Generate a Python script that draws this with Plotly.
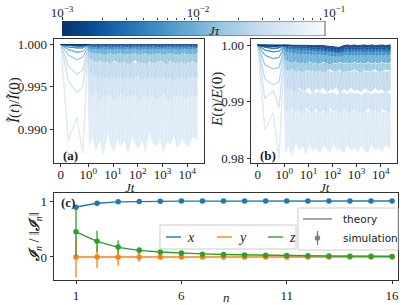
import math
import numpy as np
import plotly.graph_objects as go
from plotly.colors import sample_colorscale, make_colorscale, sequential

W, H = 407, 305


def px_x(p):
    return p / W


def px_y(p):
    return 1 - p / H


SERIF = "Liberation Serif"
SANS = "DejaVu Sans"
INK = "#222222"
FRAME = "#333333"

# ---------------- data ----------------
# colour bar range, log10(J tau)
JT_LOG_MIN = -3.0
JT_LOG_MAX = -1.066
CB_TICK_TEXT = ["10<sup>\u22123</sup>", "10<sup>\u22122</sup>", "10<sup>\u22121</sup>"]

# J tau of each drawn curve (darkest -> lightest)
JT = [0.001, 0.0017, 0.003, 0.0052, 0.009, 0.016, 0.027, 0.036, 0.048]

# time samples (J t)
EARLY_T = [0, 0.27, 0.58, 0.8, 0.98]
T_LOG = [1.1, 1.5, 2, 3, 4, 6, 8, 11, 15, 20, 30, 40, 60, 80, 110, 150, 200, 300,
         400, 600, 800, 1100, 1500, 2000, 3000, 4000, 6000, 8000, 11000, 16000, 25000]
X_TICK_T = [0, 1, 10, 100, 1000, 10000]
X_TICK_TEXT = ["0", "10<sup>0</sup>", "10<sup>1</sup>", "10<sup>2</sup>", "10<sup>3</sup>", "10<sup>4</sup>"]

# panel (a): deviation 1 - I(t)/I(0), in units of 1e-4
A_EARLY = [
    [0, 0, 0, 0, 0],
    [0, 0, 1, 1, 0],
    [0, 1, 2, 2, 0],
    [0, 3, 4, 4, 1],
    [0, 6, 9, 8, 2],
    [0, 12, 18, 15, 3],
    [0, 25, 35, 30, 5],
    [0, 42, 57, 50, 8],
    [0, 113, 86, 128, 12],
]
A_UP = [
    [0, 0, 0, 0, 0, 0, 0, 0, 0, 0, 0, 0, 0, 0, 0, 0, 0, 0, 0, 0, 0, 0, 0, 0, 0, 0, 0, 0, 0, 0, 0],
    [0, 0, 0, 0, 0, 0, 0, 0, 0, 0, 0, 0, 0, 0, 0, 0, 0, 0, 0, 0, 0, 0, 0, 0, 0, 0, 0, 0, 0, 0, 0],
    [0, 0, 0, 0, 0, 0, 0, 0, 0, 0, 0, 0, 0, 0, 0, 0, 0, 0, 0, 0, 0, 0, 0, 0, 0, 0, 0, 0, 0, 0, 0],
    [1, 1, 1, 1, 1, 1, 1, 1, 1, 1, 1, 1, 1, 1, 1, 1, 1, 1, 1, 1, 1, 1, 1, 1, 1, 1, 1, 1, 1, 1, 1],
    [2, 2, 3, 3, 4, 3, 4, 3, 4, 4, 3, 4, 4, 3, 4, 4, 3, 4, 4, 3, 4, 4, 3, 4, 4, 3, 4, 4, 3, 4, 4],
    [4, 6, 7, 8, 9, 8, 10, 9, 10, 9, 11, 10, 9, 10, 11, 9, 10, 11, 10, 9, 10, 11, 10, 9, 11, 10, 10, 11, 9, 10, 10],
    [8, 12, 15, 18, 16, 20, 18, 22, 19, 21, 18, 22, 20, 23, 19, 21, 18, 22, 20, 21, 19, 23, 20, 22, 18, 21, 20, 22, 19, 21, 20],
    [15, 20, 25, 28, 30, 32, 28, 35, 30, 33, 36, 30, 34, 38, 32, 35, 30, 36, 33, 38, 35, 32, 37, 34, 36, 33, 38, 35, 32, 36, 34],
    [30, 40, 45, 55, 50, 60, 48, 58, 52, 62, 55, 50, 60, 57, 52, 63, 55, 58, 50, 60, 56, 62, 54, 58, 60, 52, 57, 62, 55, 58, 60],
]
A_LO = [
    [0.6, 0.6, 0.6, 0.6, 0.6, 0.6, 0.6, 0.6, 0.6, 0.6, 0.6, 0.6, 0.6, 0.6, 0.6, 0.6, 0.6, 0.6, 0.6, 0.6, 0.6, 0.6, 0.6, 0.6, 0.6, 0.6, 0.6, 0.6, 0.6, 0.6, 0.6],
    [1, 1, 1, 1, 1, 1, 1, 1, 1, 1, 1, 1, 1, 1, 1, 1, 1, 1, 1, 1, 1, 1, 1, 1, 1, 1, 1, 1, 1, 1, 1],
    [2, 2, 2, 3, 2, 2, 3, 2, 2, 3, 2, 2, 3, 2, 2, 3, 2, 2, 3, 2, 2, 3, 2, 2, 3, 2, 2, 3, 2, 2, 3],
    [4, 5, 4, 5, 5, 4, 5, 5, 4, 5, 5, 4, 5, 4, 5, 5, 4, 5, 5, 4, 5, 4, 5, 5, 4, 5, 5, 4, 5, 5, 4],
    [8, 9, 10, 9, 11, 10, 9, 11, 10, 9, 11, 10, 10, 9, 11, 10, 9, 11, 10, 10, 9, 11, 10, 9, 10, 11, 10, 9, 11, 10, 10],
    [15, 18, 20, 17, 21, 19, 22, 18, 20, 21, 19, 22, 20, 18, 21, 20, 22, 19, 21, 20, 18, 21, 22, 19, 20, 21, 19, 22, 20, 19, 21],
    [30, 35, 38, 34, 40, 36, 42, 35, 39, 37, 41, 36, 40, 38, 35, 42, 37, 39, 36, 41, 38, 36, 40, 37, 42, 38, 36, 40, 39, 37, 38],
    [55, 60, 50, 65, 58, 62, 55, 68, 60, 57, 64, 58, 62, 56, 66, 60, 58, 63, 57, 65, 60, 58, 62, 66, 59, 61, 57, 64, 60, 58, 62],
    [120, 105, 125, 110, 130, 100, 118, 125, 108, 120, 112, 128, 104, 118, 122, 110, 126, 100, 115, 120, 108, 125, 112, 118, 105, 122, 110, 115, 120, 108, 112],
]

# panel (b): deviation 1 - E(t)/E(0), in units of 1e-4
B_EARLY = [
    [0, 0, 1, 1, 0],
    [0, 2, 3, 2, 0],
    [0, 4, 6, 5, 1],
    [0, 9, 12, 11, 3],
    [0, 18, 24, 22, 5],
    [0, 35, 42, 40, 8],
    [0, 60, 70, 65, 12],
    [0, 95, 80, 110, 20],
    [0, 150, 120, 200, 30],
]
B_UP = [
    [0, 0, 0, 0, 0, 0, 0, 0, 0, 1, 1, 1, 2, 2, 3, 4, 4, 1, 0, 1, 0, 1, 0, 0, 1, 0, 1, 0, 0, 1, 0],
    [0, 0, 1, 1, 1, 1, 1, 1, 2, 2, 2, 3, 3, 4, 5, 5, 6, 3, 2, 3, 2, 3, 2, 3, 3, 2, 3, 2, 3, 2, 3],
    [1, 1, 2, 2, 2, 3, 3, 3, 3, 4, 4, 4, 5, 5, 6, 6, 6, 5, 4, 5, 4, 5, 4, 5, 4, 5, 4, 5, 4, 5, 4],
    [3, 4, 5, 5, 6, 6, 7, 7, 8, 8, 8, 9, 9, 10, 10, 11, 11, 10, 9, 10, 9, 10, 9, 10, 9, 10, 9, 10, 9, 10, 9],
    [8, 10, 12, 13, 14, 15, 16, 16, 17, 17, 18, 18, 18, 19, 19, 19, 20, 18, 17, 18, 17, 18, 17, 18, 17, 18, 17, 18, 17, 18, 17],
    [20, 24, 26, 28, 30, 30, 32, 31, 33, 32, 34, 33, 32, 34, 33, 35, 32, 34, 33, 35, 32, 34, 33, 35, 32, 34, 33, 35, 32, 34, 33],
    [35, 40, 42, 45, 44, 46, 45, 48, 46, 47, 45, 48, 46, 47, 49, 46, 48, 45, 47, 49, 46, 48, 45, 47, 49, 46, 48, 47, 45, 48, 46],
    [60, 70, 75, 80, 78, 85, 82, 88, 84, 86, 83, 88, 85, 87, 84, 89, 86, 85, 88, 84, 87, 85, 89, 86, 84, 88, 85, 87, 86, 84, 88],
    [95, 105, 110, 115, 112, 118, 115, 120, 116, 119, 114, 121, 117, 115, 120, 116, 119, 114, 118, 121, 116, 119, 115, 118, 120, 116, 119, 114, 118, 120, 117],
]
B_LO = [
    [0, 0, 0, 1, 1, 1, 1, 1, 2, 2, 3, 3, 4, 5, 6, 6, 7, 3, 2, 3, 2, 3, 2, 3, 3, 2, 3, 2, 3, 3, 2],
    [2, 3, 3, 3, 4, 4, 4, 5, 5, 6, 6, 7, 8, 9, 10, 10, 11, 7, 6, 7, 6, 7, 6, 7, 6, 7, 6, 7, 6, 7, 6],
    [5, 6, 6, 7, 7, 8, 8, 8, 9, 9, 10, 10, 11, 12, 12, 13, 13, 11, 10, 11, 10, 11, 10, 11, 10, 11, 10, 11, 10, 11, 10],
    [10, 12, 12, 13, 14, 14, 15, 15, 15, 16, 16, 17, 17, 18, 18, 19, 19, 17, 16, 17, 16, 17, 16, 17, 16, 17, 16, 17, 16, 17, 16],
    [25, 28, 30, 27, 31, 29, 32, 28, 31, 30, 32, 29, 31, 33, 30, 32, 29, 31, 30, 32, 29, 31, 30, 32, 29, 31, 30, 32, 29, 31, 30],
    [42, 45, 40, 46, 43, 47, 42, 45, 44, 46, 43, 47, 44, 42, 46, 45, 43, 47, 44, 46, 42, 45, 47, 43, 46, 44, 42, 46, 45, 43, 44],
    [70, 80, 75, 85, 72, 82, 78, 74, 84, 76, 80, 73, 83, 77, 79, 72, 85, 76, 81, 74, 80, 78, 83, 75, 79, 82, 74, 80, 77, 83, 78],
    [110, 120, 105, 118, 112, 122, 108, 116, 120, 110, 118, 114, 121, 108, 117, 113, 120, 110, 116, 119, 112, 118, 115, 121, 110, 117, 114, 120, 112, 116, 118],
    [190, 175, 195, 170, 185, 178, 192, 172, 186, 180, 190, 175, 183, 188, 172, 185, 180, 191, 174, 186, 178, 188, 176, 184, 190, 173, 185, 180, 187, 176, 182],
]
DEV_UNIT = 1e-4

# panel (c)
N = [1, 2, 3, 4, 5, 6, 7, 8, 9, 10, 11, 12, 13, 14, 15, 16]
THEORY_X = [0.893, 0.960, 0.985, 0.993, 0.996, 0.998, 0.998, 0.999, 0.999, 1.0, 1.0, 1.0, 1.0, 1.0, 1.0, 1.0]
THEORY_Y = [0.0, 0.0, 0.0, 0.0, 0.0, 0.0, 0.0, 0.0, 0.0, 0.0, 0.0, 0.0, 0.0, 0.0, 0.0, 0.0]
THEORY_Z = [0.450, 0.280, 0.172, 0.118, 0.088, 0.068, 0.055, 0.045, 0.037, 0.031, 0.026, 0.022, 0.019, 0.016, 0.014, 0.012]
SIM_X = [0.89, 0.96, 0.985, 0.993, 0.996, 0.998, 0.998, 0.999, 0.999, 1.0, 1.0, 1.0, 1.0, 1.0, 1.0, 1.0]
SIM_Y = [0.0, 0.0, 0.0, 0.0, 0.0, 0.0, 0.0, 0.0, 0.0, 0.0, 0.0, 0.0, 0.0, 0.0, 0.0, 0.0]
SIM_Z = [0.45, 0.28, 0.18, 0.12, 0.09, 0.07, 0.05, 0.045, 0.035, 0.03, 0.025, 0.02, 0.018, 0.015, 0.013, 0.01]
ERR_X = [0.03, 0.02, 0.01, 0.005, 0.004, 0.003, 0.002, 0.002, 0.002, 0.002, 0.002, 0.002, 0.002, 0.002, 0.002, 0.002]
ERR_Y = [0.36, 0.20, 0.15, 0.09, 0.05, 0.03, 0.025, 0.02, 0.02, 0.015, 0.015, 0.012, 0.012, 0.01, 0.01, 0.01]
ERR_Z = [0.44, 0.19, 0.12, 0.06, 0.035, 0.025, 0.02, 0.015, 0.015, 0.012, 0.01, 0.01, 0.01, 0.01, 0.01, 0.01]
N_TICKS = [1, 6, 11, 16]
COMPONENT_NAMES = ["x", "y", "z"]
KIND_NAMES = ["theory", "simulation"]

BLUE, ORANGE, GREEN = "#1f77b4", "#ff7f0e", "#2ca02c"
GRAY = "#808080"

# ---------------- helpers ----------------
LIN = 1.0 / (1.0 - 1.0 / 10.0)  # matplotlib symlog, linthresh=1, linscale=1


def symlog(t):
    return t * LIN if t <= 1 else LIN + math.log10(t)


BLUES_R = make_colorscale(list(reversed(sequential.Blues)))
POS = [(math.log10(j) - JT_LOG_MIN) / (JT_LOG_MAX - JT_LOG_MIN) for j in JT]
COLORS = sample_colorscale(BLUES_R, POS)

fig = go.Figure()


def add_panel(early, up, lo, xa, ya):
    for k in reversed(range(len(JT))):
        # outline: early line, upper envelope forward, lower envelope back, early line back
        ts = list(EARLY_T) + list(T_LOG) + list(reversed(T_LOG)) + list(reversed(EARLY_T))
        ds = list(early[k]) + list(up[k]) + list(reversed(lo[k])) + list(reversed(early[k]))
        fig.add_trace(go.Scatter(
            x=[symlog(t) for t in ts], y=[1 - d * DEV_UNIT for d in ds],
            mode="lines", line=dict(color=COLORS[k], width=1.0),
            fill="toself", fillcolor=COLORS[k],
            xaxis=xa, yaxis=ya, showlegend=False, hoverinfo="skip"))
        # jagged interior strokes between the envelopes
        zt, zd = [], []
        for t, u, l in zip(T_LOG, up[k], lo[k]):
            zt += [t, t]
            zd += [u, l]
        fig.add_trace(go.Scatter(
            x=[symlog(t) for t in zt], y=[1 - d * DEV_UNIT for d in zd],
            mode="lines", line=dict(color="rgba(255,255,255,0.35)", width=0.6),
            xaxis=xa, yaxis=ya, showlegend=False, hoverinfo="skip"))


add_panel(A_EARLY, A_UP, A_LO, "x", "y")
add_panel(B_EARLY, B_UP, B_LO, "x2", "y2")

# panel (c)
for th, sim, err, col, name in [
        (THEORY_X, SIM_X, ERR_X, BLUE, COMPONENT_NAMES[0]),
        (THEORY_Y, SIM_Y, ERR_Y, ORANGE, COMPONENT_NAMES[1]),
        (THEORY_Z, SIM_Z, ERR_Z, GREEN, COMPONENT_NAMES[2])]:
    fig.add_trace(go.Scatter(x=N, y=th, mode="lines", line=dict(color=col, width=1.4),
                             name=name, showlegend=False, xaxis="x3", yaxis="y3"))
    fig.add_trace(go.Scatter(x=N, y=sim, mode="markers", marker=dict(color=col, size=5.5),
                             error_y=dict(type="data", array=err, color=col, thickness=1.3, width=0),
                             showlegend=False, xaxis="x3", yaxis="y3"))

# colour bar
cb_edges = np.linspace(JT_LOG_MIN, JT_LOG_MAX, 257)
cb_centres = (cb_edges[:-1] + cb_edges[1:]) / 2
fig.add_trace(go.Heatmap(x=cb_edges, y=[0, 1], z=[cb_centres], colorscale="Blues", reversescale=True,
                         zmin=JT_LOG_MIN, zmax=JT_LOG_MAX, showscale=False, hoverinfo="skip",
                         xaxis="x4", yaxis="y4"))

cb_minor = [math.log10(k * 10 ** d) for d in (-3, -2) for k in range(2, 10)
            if math.log10(k * 10 ** d) <= JT_LOG_MAX]

tickfont = dict(family=SERIF, size=13, color=INK)
frame = dict(showline=True, mirror=True, linecolor=FRAME, linewidth=0.8, showgrid=False,
             zeroline=False, ticks="outside", ticklen=3.5, tickwidth=0.8, tickcolor=FRAME,
             tickfont=tickfont, automargin=False)

XR = [-0.276, 5.79]
x_tickvals = [symlog(t) for t in X_TICK_T]

fig.update_layout(
    width=W, height=H, margin=dict(l=0, r=0, t=0, b=0, pad=0, autoexpand=False),
    paper_bgcolor="white", plot_bgcolor="white", showlegend=False,
    xaxis=dict(domain=[px_x(54), px_x(204)], range=XR, tickvals=x_tickvals, ticktext=X_TICK_TEXT,
               anchor="y", ticklabelstandoff=-4, **frame),
    yaxis=dict(domain=[px_y(163), px_y(39)], range=[0.98603, 1.00065],
               tickvals=[0.990, 0.995, 1.000], ticktext=["0.990", "0.995", "1.000"], anchor="x", **frame),
    xaxis2=dict(domain=[px_x(251), px_x(397)], range=XR, tickvals=x_tickvals, ticktext=X_TICK_TEXT,
                anchor="y2", ticklabelstandoff=-4, **frame),
    yaxis2=dict(domain=[px_y(163), px_y(39)], range=[0.97917, 1.00106],
                tickvals=[0.98, 0.99, 1.00], ticktext=["0.98", "0.99", "1.00"], anchor="x2", **frame),
    xaxis3=dict(domain=[px_x(54), px_x(398)], range=[-0.044, 16.28], tickvals=N_TICKS,
                anchor="y3", **frame),
    yaxis3=dict(domain=[px_y(280), px_y(193)], range=[-0.411, 1.143], tickvals=[0, 1],
                anchor="x3", **frame),
    xaxis4=dict(domain=[px_x(62), px_x(345)], range=[JT_LOG_MIN, JT_LOG_MIN + 283 / 136.0],
                side="top", anchor="y4", showline=False, showgrid=False, zeroline=False,
                tickvals=[-3, -2, -1], ticktext=CB_TICK_TEXT, ticks="outside", ticklen=3.5,
                tickwidth=0.8, tickcolor=FRAME, tickfont=tickfont, automargin=False,
                ticklabelstandoff=-6,
                minor=dict(tickvals=cb_minor, ticks="outside", ticklen=2, tickwidth=0.6,
                           tickcolor=FRAME, showgrid=False)),
    yaxis4=dict(domain=[px_y(36), px_y(21)], range=[0, 1], visible=False, anchor="x4",
                automargin=False),
)

fig.add_shape(type="rect", xref="x4", yref="y4", x0=JT_LOG_MIN, x1=JT_LOG_MAX, y0=0, y1=1,
              line=dict(color=FRAME, width=0.8))

# legend for the x / y / z components (short line samples, one row)
fig.add_shape(type="rect", xref="paper", yref="paper", x0=px_x(160), x1=px_x(296),
              y0=px_y(249), y1=px_y(225), fillcolor="rgba(255,255,255,0.85)",
              line=dict(color="#cccccc", width=1), layer="above")
for name, col, x0 in zip(COMPONENT_NAMES, [BLUE, ORANGE, GREEN], [166, 217, 268]):
    fig.add_shape(type="line", xref="paper", yref="paper", x0=px_x(x0), x1=px_x(x0 + 15),
                  y0=px_y(237), y1=px_y(237), line=dict(color=col, width=1.4), layer="above")
    fig.add_annotation(x=px_x(x0 + 19), y=px_y(237), xref="paper", yref="paper",
                       text="<i>%s</i>" % name, showarrow=False, xanchor="left", yanchor="middle",
                       font=dict(family=SERIF, size=14, color=INK))

# legend for theory / simulation
fig.add_shape(type="rect", xref="paper", yref="paper", x0=px_x(298), x1=px_x(398),
              y0=px_y(250), y1=px_y(208), fillcolor="rgba(255,255,255,0.85)",
              line=dict(color="#cccccc", width=1), layer="above")
fig.add_shape(type="line", xref="paper", yref="paper", x0=px_x(303), x1=px_x(332),
              y0=px_y(219), y1=px_y(219), line=dict(color=GRAY, width=1.4), layer="above")
fig.add_shape(type="line", xref="paper", yref="paper", x0=px_x(317.5), x1=px_x(317.5),
              y0=px_y(245), y1=px_y(231), line=dict(color=GRAY, width=1.3), layer="above")
fig.add_shape(type="circle", xref="paper", yref="paper", x0=px_x(314.8), x1=px_x(320.2),
              y0=px_y(240.7), y1=px_y(235.3), fillcolor=GRAY, line=dict(color=GRAY, width=0),
              layer="above")
for label, yy in zip(KIND_NAMES, [219, 238]):
    fig.add_annotation(x=px_x(341), y=px_y(yy), xref="paper", yref="paper", text=label,
                       showarrow=False, xanchor="left", yanchor="middle",
                       font=dict(family=SANS, size=10.5, color=INK))

ann = [
    dict(x=215, y=31, text="<i>J\u03c4</i>", size=13, family=SERIF, angle=0),
    dict(x=130, y=187, text="<i>Jt</i>", size=13, family=SERIF, angle=0),
    dict(x=325, y=187, text="<i>Jt</i>", size=13, family=SERIF, angle=0),
    dict(x=226, y=297, text="<i>n</i>", size=13, family=SERIF, angle=0),
    dict(x=70, y=155, text="<b>(a)</b>", size=13, family=SERIF, angle=0),
    dict(x=268, y=155, text="<b>(b)</b>", size=13, family=SERIF, angle=0),
    dict(x=68, y=202, text="<b>(c)</b>", size=13, family=SERIF, angle=0),
    dict(x=14, y=101, text="<i>\u0128</i>(<i>t</i>)/<i>\u0128</i>(0)", size=15, family=SERIF, angle=-90),
    dict(x=218, y=100, text="<i>E</i>(<i>t</i>)/<i>E</i>(0)", size=15, family=SERIF, angle=-90),
    dict(x=35, y=237, text="<b><i>\u2110</i></b><sub><i>n</i></sub> / \u2016<b><i>\u2110</i></b><sub><i>n</i></sub>\u2016",
         size=14, family=SERIF, angle=-90),
]
for a in ann:
    fig.add_annotation(x=px_x(a["x"]), y=px_y(a["y"]), xref="paper", yref="paper", text=a["text"],
                       showarrow=False, textangle=a["angle"], xanchor="center", yanchor="middle",
                       font=dict(family=a["family"], size=a["size"], color=INK))

fig.write_html("out.html", config={"displayModeBar": False},
               post_script="document.body.style.margin='0';document.body.style.overflow='hidden';")
